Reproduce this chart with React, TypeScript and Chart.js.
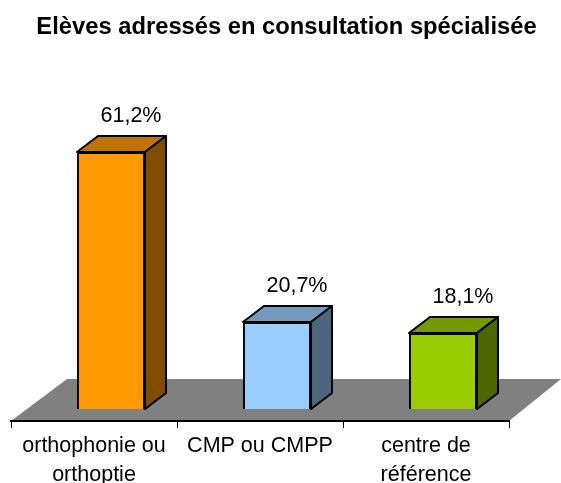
import React, { useEffect, useRef } from "react";
import { Chart, registerables } from "chart.js";

Chart.register(...registerables);

const titleText = "Elèves adressés en consultation spécialisée";
const categories = [["orthophonie ou", "orthoptie"], ["CMP ou CMPP"], ["centre de", "référence"]];
const values = [61.2, 20.7, 18.1];
const valueLabels = ["61,2%", "20,7%", "18,1%"];
const frontColors = ["#FF9900", "#99CCFF", "#99CC00"];
const topColors = ["#BF7300", "#7399BF", "#739900"];
const sideColors = ["#804D00", "#4D6680", "#4D6600"];

const FONT = '"Liberation Sans", Arial, sans-serif';
const BAR_DX = 17;
const BAR_DY = -12;
const SIDE_DX = 21;
const SIDE_DY = -16;

const scene3d = {
  id: "scene3d",
  beforeDraw(chart: any) {
    const { ctx, chartArea: a } = chart;
    ctx.save();
    ctx.fillStyle = "#808080";
    ctx.beginPath();
    ctx.moveTo(a.left, a.bottom);
    ctx.lineTo(a.left + 56, a.bottom - 42);
    ctx.lineTo(a.right + 52, a.bottom - 42);
    ctx.lineTo(a.right, a.bottom);
    ctx.closePath();
    ctx.fill();
    ctx.restore();
  },
  beforeDatasetsDraw(chart: any) {
    const { ctx } = chart;
    ctx.save();
    ctx.translate(BAR_DX, BAR_DY);
    const bars = chart.getDatasetMeta(0).data;
    bars.forEach((bar: any, i: number) => {
      const l = bar.x - bar.width / 2;
      const r = bar.x + bar.width / 2;
      const t = bar.y;
      const b = bar.base;
      ctx.lineWidth = 2;
      ctx.strokeStyle = "#000";
      ctx.lineJoin = "round";
      ctx.fillStyle = topColors[i];
      ctx.beginPath();
      ctx.moveTo(l, t);
      ctx.lineTo(l + SIDE_DX, t + SIDE_DY);
      ctx.lineTo(r + SIDE_DX, t + SIDE_DY);
      ctx.lineTo(r, t);
      ctx.closePath();
      ctx.fill();
      ctx.stroke();
      ctx.fillStyle = sideColors[i];
      ctx.beginPath();
      ctx.moveTo(r, t);
      ctx.lineTo(r + SIDE_DX, t + SIDE_DY);
      ctx.lineTo(r + SIDE_DX, b + SIDE_DY);
      ctx.lineTo(r, b);
      ctx.closePath();
      ctx.fill();
      ctx.stroke();
    });
  },
  afterDatasetsDraw(chart: any) {
    const { ctx } = chart;
    ctx.restore();
    const bars = chart.getDatasetMeta(0).data;
    ctx.save();
    ctx.fillStyle = "#000";
    ctx.textAlign = "center";
    ctx.textBaseline = "alphabetic";
    ctx.font = `21.5px ${FONT}`;
    bars.forEach((bar: any, i: number) => {
      ctx.fillText(valueLabels[i], bar.x + BAR_DX + 20, bar.y + BAR_DY - 30);
    });
    ctx.font = `bold 23.75px ${FONT}`;
    ctx.fillText(titleText, 286.5, 33.5);
    ctx.restore();
  },
};

export default function App() {
  const ref = useRef<HTMLCanvasElement>(null);
  useEffect(() => {
    document.body.style.margin = "0";
    const chart = new Chart(ref.current!, {
      type: "bar",
      data: {
        labels: categories as any,
        datasets: [
          {
            data: values,
            backgroundColor: frontColors,
            borderColor: "#000",
            borderWidth: 2,
            barPercentage: 1,
            categoryPercentage: 0.41,
            clip: false as any,
          },
        ],
      },
      options: {
        responsive: false,
        animation: false,
        layout: { padding: { left: 11, right: 52, top: 127, bottom: 0 } },
        plugins: { legend: { display: false }, title: { display: false }, tooltip: { enabled: false } },
        scales: {
          x: {
            afterFit(scale: any) {
              scale.height = 62;
            },
            border: { display: true, color: "#000", width: 2 },
            grid: { offset: true, drawOnChartArea: false, drawTicks: true, tickLength: 7, color: "#000", lineWidth: 1 },
            ticks: {
              color: "#000",
              font: { family: FONT, size: 21.5, lineHeight: 1.35 },
              padding: 4,
              maxRotation: 0,
              minRotation: 0,
              autoSkip: false,
            },
          },
          y: { display: false, min: 0, max: 70 },
        },
      },
      plugins: [scene3d],
    });
    return () => chart.destroy();
  }, []);
  return <canvas ref={ref} width={561} height={483} style={{ display: "block" }} />;
}
